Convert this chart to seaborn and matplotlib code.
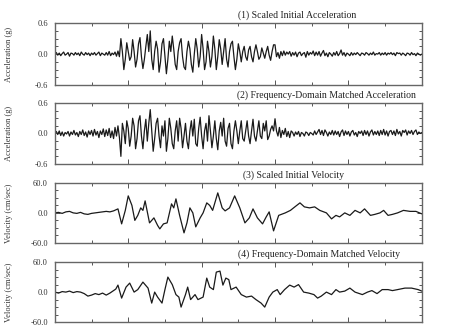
import numpy as np
import matplotlib
matplotlib.use("Agg")
import matplotlib.pyplot as plt
from matplotlib.ticker import MultipleLocator
import seaborn as sns

# acceleration records sampled every 0.2 s (g), one row per second
acc_dt = 0.2
acc_initial = [
    0.00, 0.03, -0.02, 0.02, -0.03,
    0.01, 0.04, -0.02, 0.00, 0.03,
    -0.04, 0.02, 0.01, -0.02, 0.03,
    -0.01, 0.02, -0.03, 0.04, 0.00,
    -0.02, 0.03, -0.01, 0.02, -0.03,
    0.02, -0.01, 0.03, -0.02, 0.01,
    0.04, -0.03, 0.02, 0.00, -0.02,
    0.03, -0.02, 0.05, -0.03, 0.02,
    -0.01, 0.04, -0.04, 0.06, -0.05,
    0.30, 0.05, -0.30, -0.10, 0.22,
    0.05, -0.12, -0.05, 0.28, 0.05,
    -0.25, -0.10, 0.20, 0.32, -0.05,
    -0.28, -0.10, 0.15, 0.38, 0.05,
    0.45, -0.10, -0.30, 0.05, 0.25,
    0.10, -0.35, -0.15, 0.20, 0.30,
    -0.05, -0.38, -0.10, 0.25, 0.05,
    0.35, 0.10, -0.20, -0.30, 0.05,
    0.22, 0.30, -0.05, -0.25, -0.30,
    0.05, 0.25, 0.10, -0.20, -0.35,
    0.00, 0.30, 0.10, -0.25, -0.05,
    0.38, 0.10, -0.30, -0.15, 0.25,
    0.05, -0.25, -0.05, 0.35, 0.10,
    -0.30, -0.05, 0.28, 0.10, -0.20,
    0.05, 0.30, -0.10, -0.25, 0.05,
    0.20, 0.25, -0.05, -0.30, -0.10,
    0.20, 0.05, -0.15, 0.05, 0.15,
    -0.05, -0.12, 0.08, 0.15, -0.05,
    -0.15, 0.05, 0.18, 0.05, -0.10,
    -0.05, 0.12, 0.02, -0.08, 0.05,
    0.15, -0.02, -0.12, 0.05, 0.18,
    0.18, -0.05, 0.03, -0.08, 0.05,
    -0.03, 0.06, -0.02, 0.04, 0.00,
    0.05, -0.04, 0.03, -0.02, 0.04,
    -0.05, 0.02, 0.04, -0.03, 0.01,
    0.03, -0.06, 0.05, -0.02, 0.03,
    0.00, 0.06, -0.03, 0.04, -0.02,
    0.05, -0.04, 0.02, 0.07, -0.03,
    0.02, -0.05, 0.03, 0.00, -0.04,
    0.03, -0.02, 0.05, -0.03, 0.01,
    0.08, -0.02, 0.03, -0.04, 0.02,
    0.00, -0.03, 0.03, -0.02, 0.02,
    -0.01, 0.03, 0.00, -0.03, 0.02,
    0.01, -0.02, 0.03, 0.01, -0.02,
    0.02, -0.01, 0.04, -0.02, 0.01,
    0.00, 0.03, -0.02, 0.02, -0.01,
    0.03, -0.02, 0.02, 0.00, 0.03,
    -0.01, 0.02, -0.03, 0.03, 0.01,
    0.02, -0.02, 0.02, 0.00, -0.03,
    0.02, 0.01, -0.02, 0.03, -0.01,
    0.01, -0.03, 0.02, 0.00, -0.02,
    0.00,
]
acc_matched = [
    0.00, 0.04, -0.02, 0.05, -0.04,
    0.03, -0.05, 0.02, -0.01, 0.04,
    -0.05, 0.03, -0.02, 0.06, -0.03,
    0.02, -0.06, 0.04, -0.02, 0.07,
    -0.04, 0.03, -0.07, 0.05, -0.02,
    0.06, -0.05, 0.08, -0.03, 0.04,
    -0.08, 0.05, -0.02, 0.09, -0.06,
    0.07, -0.04, 0.10, -0.08, 0.05,
    -0.10, 0.12, -0.05, 0.15, -0.08,
    -0.45, 0.20, 0.05, -0.20, 0.25,
    0.10, -0.25, -0.05, 0.30, 0.15,
    -0.30, -0.10, 0.25, 0.35, -0.05,
    -0.30, 0.05, 0.28, -0.15, 0.20,
    0.47, 0.05, -0.35, -0.10, 0.20,
    0.30, -0.05, -0.28, 0.15, -0.05,
    0.25, -0.35, -0.10, 0.30, 0.10,
    -0.20, -0.30, 0.05, 0.25, -0.15,
    0.30, 0.10, -0.28, -0.05, 0.20,
    -0.15, -0.30, 0.05, 0.25, -0.05,
    0.28, -0.20, -0.25, 0.10, 0.32,
    -0.05, -0.30, 0.05, 0.20, -0.15,
    0.35, 0.05, -0.28, -0.05, 0.25,
    -0.10, -0.32, 0.05, 0.22, -0.05,
    0.30, -0.15, -0.25, 0.10, 0.20,
    -0.20, -0.30, 0.05, 0.25, 0.05,
    -0.20, 0.05, 0.25, -0.10, -0.15,
    0.05, 0.25, -0.05, -0.20, 0.05,
    0.28, -0.05, -0.15, 0.05, 0.25,
    -0.05, -0.10, 0.20, 0.05, 0.25,
    -0.12, -0.05, 0.08, 0.15, 0.05,
    0.29, 0.05, -0.05, 0.12, -0.08,
    0.06, -0.02, 0.10, -0.06, 0.04,
    -0.08, 0.05, 0.02, -0.05, 0.03,
    -0.02, 0.04, -0.06, 0.02, 0.00,
    -0.05, 0.03, 0.01, -0.04, 0.02,
    0.00, -0.03, 0.05, -0.02, 0.03,
    0.08, -0.02, 0.06, -0.04, 0.07,
    0.02, -0.05, 0.03, -0.02, 0.06,
    -0.03, 0.05, -0.02, 0.04, -0.06,
    0.03, 0.07, -0.04, 0.05, -0.02,
    0.04, -0.05, 0.03, 0.06, -0.03,
    0.02, -0.06, 0.04, 0.00, 0.05,
    -0.04, 0.06, -0.02, 0.05, -0.05,
    0.03, 0.07, -0.03, 0.04, -0.02,
    0.05, -0.04, 0.06, -0.02, 0.08,
    -0.03, 0.05, -0.05, 0.04, 0.06,
    -0.02, 0.05, -0.04, 0.08, -0.01,
    0.04, -0.05, 0.06, 0.02, 0.07,
    -0.03, 0.05, 0.00, 0.06, -0.02,
    0.04, 0.07, -0.02, 0.03, 0.00,
    0.02,
]

# velocity records (time in s, velocity in cm/sec)
t_vel_initial = [0, 0.5, 1, 1.5, 2, 2.5, 3, 3.5, 4, 4.5, 5, 5.5, 6, 6.5, 7, 7.5, 8, 8.3,
                 8.6, 9.1, 9.6, 10.0, 10.5, 10.9, 11.3, 11.7, 12.0, 12.3, 12.9, 13.5,
                 14.0, 14.3, 14.8, 15.3, 15.9, 16.2, 16.5, 17.0, 17.6, 18.0, 18.4, 18.8,
                 19.2, 19.8, 20.2, 20.7, 21.1, 21.5, 22.2, 22.8, 23.2, 23.8, 24.5, 25.2,
                 25.9, 26.5, 27.0, 27.6, 28.3, 28.8, 29.2, 29.8, 30.5, 31.4, 32.1, 32.7,
                 33.4, 34.0, 34.7, 35.4, 36.1, 37.0, 37.7, 38.3, 38.8, 39.5, 40.2, 40.9,
                 41.6, 42.2, 43.0, 43.6, 44.3, 44.8, 45.4, 46.0, 46.7, 47.5, 48.4, 49.2, 50.0]
vel_initial = [0, 1, -1, 2, 3, 0, -1, 1, -2, -3, -1, 0, 1, 2, 3, 2, 4, 6,
               8, -22, 5, 34, 15, -15, -5, 10, 5, 24, -20, -10,
               -25, -32, -22, -20, 18, 10, 28, -5, -40, -20, 10, 0,
               -28, -10, 0, 20, 15, 5, 40, 10, 4, 10, 34, 10,
               -20, -10, 8, -10, -22, -8, 2, -36, -5, 0, 5, 12,
               20, 12, 10, 12, 5, 0, -12, -5, -8, 0, -5, 5,
               0, 8, -5, -3, 0, 5, -5, -3, 0, 5, 3, 3, -2]
t_vel_matched = [0, 0.5, 1, 1.5, 2, 2.5, 3, 3.5, 4, 4.5, 5, 5.5, 6, 6.5, 7, 7.5, 8, 8.3,
                 8.6, 9.1, 9.7, 10.2, 10.8, 11.3, 12.0, 12.7, 13.2, 13.6, 14.0, 14.6,
                 15.0, 15.4, 16.0, 16.5, 16.9, 17.2, 17.8, 18.1, 18.5, 19.1, 19.5, 20.2,
                 20.7, 21.1, 21.6, 22.0, 22.5, 22.9, 23.3, 23.7, 24.0, 24.7, 25.4, 26.1,
                 26.8, 27.4, 28.1, 28.6, 29.2, 29.7, 30.3, 30.7, 31.3, 32.0, 32.6, 33.2,
                 33.9, 34.6, 35.3, 35.8, 36.3, 37.0, 37.7, 38.3, 38.8, 39.5, 40.2, 40.9,
                 41.9, 42.6, 43.2, 43.9, 44.6, 45.4, 46.0, 46.7, 47.7, 48.6, 49.5, 50.0]
vel_matched = [0, -2, 1, 0, 2, -1, 1, 0, -3, -8, -6, -3, -5, -2, -6, -2, 3, 6,
               14, -12, 10, 18, 0, 5, 20, 8, -22, 0, -10, -22,
               5, 30, 15, -5, -10, -30, -5, 10, -15, -5, -15, -10,
               28, 10, 5, 40, 42, 14, 28, 25, 5, 10, -5, -10,
               -8, -15, -22, -30, -10, 0, 5, -5, 5, 14, 10, 15,
               0, -2, -5, -12, -8, 0, -5, 5, 0, 2, 8, 0,
               -5, 0, 3, -3, 5, 5, 3, 5, 8, 8, 5, 2]

panel_titles = ["(1) Scaled Initial Acceleration",
                "(2) Frequency-Domain Matched Acceleration",
                "(3) Scaled Initial Velocity",
                "(4) Frequency-Domain Matched Velocity"]
title_x = [0.66, 0.74, 0.65, 0.72]


def main():
    sns.set_style("ticks")
    plt.rcParams['font.family'] = ['Liberation Serif', 'DejaVu Serif']

    fig = plt.figure(figsize=(4.57, 3.26), dpi=100)
    left, width = 0.120, 0.803
    boxes = [(0.739, 0.190), (0.497, 0.187), (0.255, 0.184), (0.012, 0.184)]

    t_acc = np.arange(len(acc_initial)) * acc_dt
    series = [
        (t_acc, acc_initial, 0.6, 0.15, "Acceleration (g)"),
        (t_acc, acc_matched, 0.6, 0.15, "Acceleration (g)"),
        (t_vel_initial, vel_initial, 60.0, 15.0, "Velocity (cm/sec)"),
        (t_vel_matched, vel_matched, 60.0, 15.0, "Velocity (cm/sec)"),
    ]

    for i, (t, y, lim, minor, ylab) in enumerate(series):
        bottom, height = boxes[i]
        ax = fig.add_axes([left, bottom, width, height])
        sns.lineplot(x=t, y=y, ax=ax, color="#1a1a1a", linewidth=0.9)

        ax.set_xlim(0, 50)
        ax.set_ylim(-lim, lim)
        ax.xaxis.set_major_locator(MultipleLocator(10))
        ax.xaxis.set_minor_locator(MultipleLocator(5))
        ax.set_yticks([-lim, 0, lim])
        ax.yaxis.set_minor_locator(MultipleLocator(minor))
        ax.set_xticklabels([])
        ax.set_yticklabels(["{:.1f}".format(v) for v in [-lim, 0, lim]])

        ax.tick_params(which="both", direction="in", top=True, right=True,
                       color="#555555", width=0.7)
        ax.tick_params(which="major", length=3.5)
        ax.tick_params(which="minor", length=2)
        ax.tick_params(axis="y", labelsize=6, pad=5, labelcolor="#333333")
        for sp in ax.spines.values():
            sp.set_color("#666666")
            sp.set_linewidth(1.0)

        ax.set_ylabel(ylab, fontsize=6, color="#333333")
        ax.yaxis.set_label_coords(-0.115, 0.5)
        ax.set_xlabel("")
        ax.text(title_x[i], 1.13, panel_titles[i], transform=ax.transAxes,
                ha="center", va="center", fontsize=7, color="#222222")

    fig.savefig("out.png", dpi=100)
    plt.close(fig)


if __name__ == "__main__":
    main()
